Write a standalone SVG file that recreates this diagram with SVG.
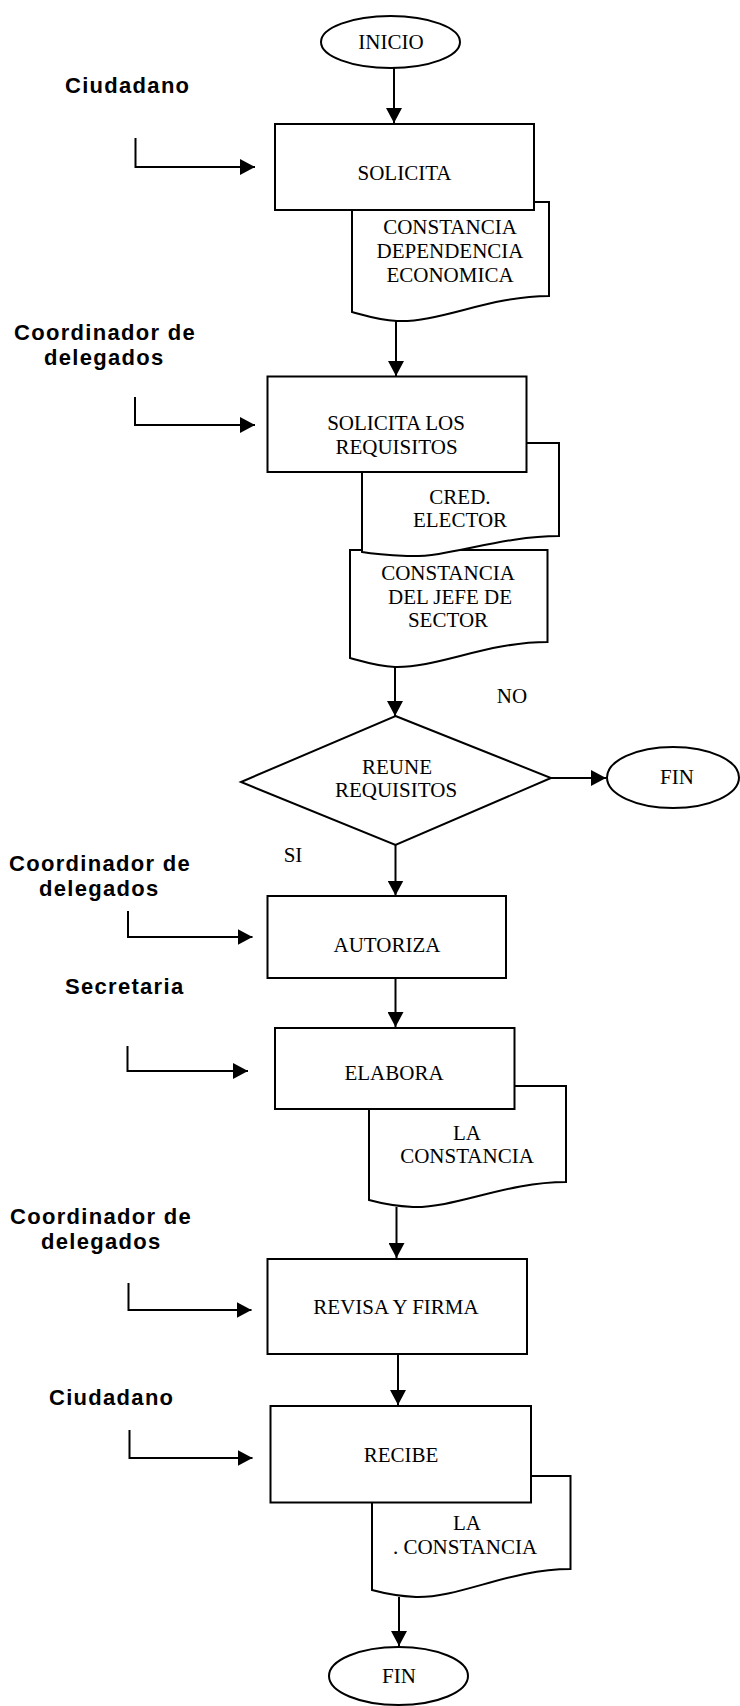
<svg xmlns="http://www.w3.org/2000/svg" width="740" height="1706" viewBox="0 0 740 1706">
  <defs>
    <style>
      .box { fill: #fff; stroke: #000; stroke-width: 2; }
      .txt { font-family: "Liberation Serif", "Times New Roman", serif; font-size: 21px; text-anchor: middle; fill: #000; }
      .role { font-family: "Liberation Sans", Arial, sans-serif; font-weight: bold; font-size: 22px; letter-spacing: 1.3px; fill: #000; }
      .conn { fill: none; stroke: #000; stroke-width: 2; marker-end: url(#arr); }
    </style>
    <marker id="arr" markerUnits="userSpaceOnUse" viewBox="0 0 16 16" markerWidth="16" markerHeight="16" refX="15" refY="8" orient="auto">
      <path d="M0,0 L15,8 L0,16 Z" fill="#000"/>
    </marker>
  </defs>
  <rect width="740" height="1706" fill="#fff"/>

  <!-- role labels -->
  <g id="roles">
    <text class="role" x="65" y="93">Ciudadano</text>
    <text class="role" x="14" y="340">Coordinador de</text>
    <text class="role" x="44" y="365">delegados</text>
    <text class="role" x="9" y="871">Coordinador de</text>
    <text class="role" x="39" y="896">delegados</text>
    <text class="role" x="65" y="994">Secretaria</text>
    <text class="role" x="10" y="1224">Coordinador de</text>
    <text class="role" x="41" y="1249">delegados</text>
    <text class="role" x="49" y="1405">Ciudadano</text>
  </g>

  <g id="inicio">
    <ellipse class="box" cx="390.5" cy="42" rx="69.5" ry="26"/>
    <text class="txt" x="391" y="49">INICIO</text>
  </g>

  <g id="doc-dependencia">
    <path class="box" d="M352,202 H549 V296 C489,296 439,323 397,321 C377,320 364,315 352,312 Z"/>
    <text class="txt" x="450" y="234">CONSTANCIA</text>
    <text class="txt" x="450" y="258">DEPENDENCIA</text>
    <text class="txt" x="450" y="282">ECONOMICA</text>
  </g>
  <g id="solicita">
    <rect class="box" x="275" y="124" width="259" height="86"/>
    <text class="txt" x="404.5" y="180">SOLICITA</text>
  </g>

  <g id="doc-jefe">
    <path class="box" d="M350,550 H547.5 V642 C487,642 437,668 395,667 C375,666 362,661 350,658 Z"/>
    <text class="txt" x="448" y="580">CONSTANCIA</text>
    <text class="txt" x="450" y="604">DEL JEFE DE</text>
    <text class="txt" x="448" y="627">SECTOR</text>
  </g>
  <g id="doc-credencial">
    <path class="box" d="M362,443 H559 V536 C499,536 449,558 407,556 C387,555 374,554 362,552 Z"/>
    <text class="txt" x="460" y="504">CRED.</text>
    <text class="txt" x="460" y="527">ELECTOR</text>
  </g>
  <g id="solicita-requisitos">
    <rect class="box" x="267.5" y="376.5" width="259" height="95.5"/>
    <text class="txt" x="396" y="430">SOLICITA LOS</text>
    <text class="txt" x="396.5" y="454">REQUISITOS</text>
  </g>

  <g id="reune-requisitos">
    <polygon class="box" points="395.5,716 551,778 395.5,845 241,782"/>
    <text class="txt" x="397" y="774">REUNE</text>
    <text class="txt" x="396" y="797">REQUISITOS</text>
  </g>

  <g id="fin-rechazo">
    <ellipse class="box" cx="673" cy="777.5" rx="66" ry="30.5"/>
    <text class="txt" x="677" y="784">FIN</text>
  </g>

  <g id="autoriza">
    <rect class="box" x="267.5" y="896" width="238.5" height="82"/>
    <text class="txt" x="387" y="952">AUTORIZA</text>
  </g>

  <g id="doc-constancia-1">
    <path class="box" d="M369,1086 H566 V1182 C506,1182 456,1208 413,1207 C393,1206 380,1203 369,1200 Z"/>
    <text class="txt" x="467" y="1140">LA</text>
    <text class="txt" x="467" y="1163">CONSTANCIA</text>
  </g>
  <g id="elabora">
    <rect class="box" x="275" y="1028" width="239.5" height="81"/>
    <text class="txt" x="394" y="1080">ELABORA</text>
  </g>

  <g id="revisa-firma">
    <rect class="box" x="267.5" y="1259" width="259.5" height="95"/>
    <text class="txt" x="396" y="1314">REVISA Y FIRMA</text>
  </g>

  <g id="doc-constancia-2">
    <path class="box" d="M372,1476 H570.5 V1569 C510,1569 460,1598 416,1597 C396,1596 383,1593 372,1590 Z"/>
    <text class="txt" x="467" y="1530">LA</text>
    <text class="txt" x="465" y="1554">. CONSTANCIA</text>
  </g>
  <g id="recibe">
    <rect class="box" x="270.5" y="1406" width="260.5" height="96.5"/>
    <text class="txt" x="401" y="1462">RECIBE</text>
  </g>

  <g id="fin">
    <ellipse class="box" cx="398.5" cy="1676" rx="69.5" ry="29"/>
    <text class="txt" x="399" y="1683">FIN</text>
  </g>

  <!-- branch labels -->
  <g id="branch-labels">
    <text class="txt" x="512" y="703">NO</text>
    <text class="txt" x="293" y="862">SI</text>
  </g>

  <g id="connectors">
    <path class="conn" d="M394,68 V123"/>
    <path class="conn" d="M396,321 V376"/>
    <path class="conn" d="M395,667 V716"/>
    <path class="conn" d="M551,778 H606"/>
    <path class="conn" d="M395.5,845 V895.5"/>
    <path class="conn" d="M395.5,978 V1027"/>
    <path class="conn" d="M396.5,1207 V1258"/>
    <path class="conn" d="M398,1354 V1405"/>
    <path class="conn" d="M399,1597 V1646"/>
    <path class="conn" d="M135.5,138 V167 H255"/>
    <path class="conn" d="M135,397 V425 H255"/>
    <path class="conn" d="M128,911 V937 H252.5"/>
    <path class="conn" d="M127.5,1046 V1071 H248"/>
    <path class="conn" d="M128.5,1283 V1310 H251.5"/>
    <path class="conn" d="M129.5,1430 V1458 H252.5"/>
  </g>
</svg>
